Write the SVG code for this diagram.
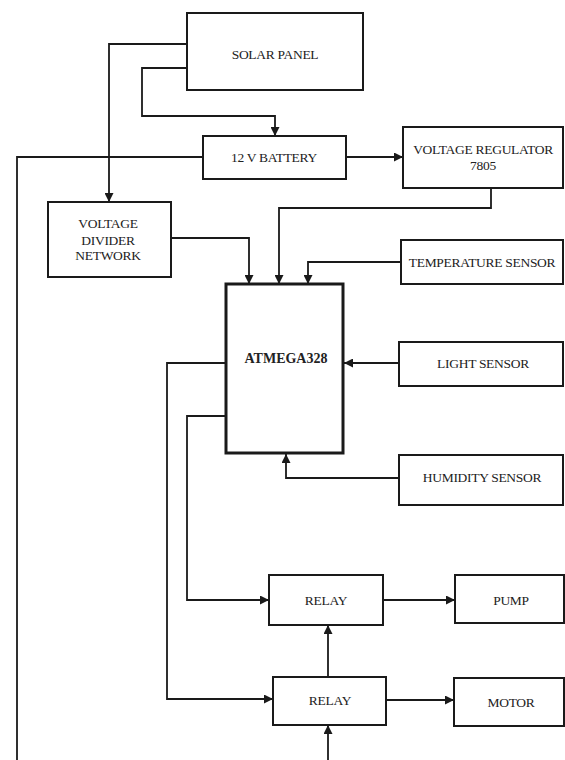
<svg xmlns="http://www.w3.org/2000/svg" width="565" height="760" viewBox="0 0 565 760">
<style>
.box{fill:#fff;stroke:#1a1a1a;stroke-width:2}
.mcu{fill:#fff;stroke:#1a1a1a;stroke-width:3}
.lbl{font-family:"Liberation Serif","Times New Roman",serif;font-size:13.5px;fill:#222;text-anchor:middle;letter-spacing:-0.3px}
.big{font-family:"Liberation Serif","Times New Roman",serif;font-size:14px;font-weight:bold;fill:#222;text-anchor:middle}
.wire{fill:none;stroke:#1a1a1a;stroke-width:1.8}
</style>
<defs>
<marker id="ah" markerUnits="userSpaceOnUse" markerWidth="9" markerHeight="9" refX="9" refY="4.5" orient="auto">
<path d="M0,0 L9,4.5 L0,9 z" fill="#1a1a1a"/>
</marker>
</defs>
<rect width="565" height="760" fill="#fff"/>
<g id="connectors">
<path class="wire" d="M187,44 H109 V202" marker-end="url(#ah)"/>
<path class="wire" d="M187,68 H142 V116 H275 V136" marker-end="url(#ah)"/>
<path class="wire" d="M203,157 H17 V760"/>
<path class="wire" d="M346,157 H403" marker-end="url(#ah)"/>
<path class="wire" d="M491,188 V208 H279 V284" marker-end="url(#ah)"/>
<path class="wire" d="M171,238 H249 V284" marker-end="url(#ah)"/>
<path class="wire" d="M401,262 H308 V284" marker-end="url(#ah)"/>
<path class="wire" d="M399,363 H344" marker-end="url(#ah)"/>
<path class="wire" d="M399,478 H286 V454" marker-end="url(#ah)"/>
<path class="wire" d="M226,363 H167 V699 H273" marker-end="url(#ah)"/>
<path class="wire" d="M226,416 H187 V600 H269" marker-end="url(#ah)"/>
<path class="wire" d="M383,600 H455" marker-end="url(#ah)"/>
<path class="wire" d="M386,700 H454" marker-end="url(#ah)"/>
<path class="wire" d="M328,677 V625" marker-end="url(#ah)"/>
<path class="wire" d="M328,760 V725" marker-end="url(#ah)"/>
</g>
<g id="solar-panel"><rect class="box" x="187" y="13" width="176" height="77"/><text class="lbl" x="275" y="59">SOLAR PANEL</text></g>
<g id="battery"><rect class="box" x="203" y="136" width="143" height="43"/><text class="lbl" x="274" y="162">12 V BATTERY</text></g>
<g id="voltage-regulator"><rect class="box" x="403" y="127" width="160" height="61"/><text class="lbl" x="483" y="154">VOLTAGE REGULATOR</text><text class="lbl" x="483" y="170">7805</text></g>
<g id="voltage-divider"><rect class="box" x="48" y="202" width="123" height="75"/><text class="lbl" x="108" y="228">VOLTAGE</text><text class="lbl" x="108" y="245">DIVIDER</text><text class="lbl" x="108" y="260">NETWORK</text></g>
<g id="temperature-sensor"><rect class="box" x="401" y="240" width="162" height="44"/><text class="lbl" x="482" y="267">TEMPERATURE SENSOR</text></g>
<g id="atmega328"><rect class="mcu" x="226" y="284" width="117" height="169"/><text class="big" x="286" y="363">ATMEGA328</text></g>
<g id="light-sensor"><rect class="box" x="399" y="342" width="164" height="44"/><text class="lbl" x="483" y="368">LIGHT SENSOR</text></g>
<g id="humidity-sensor"><rect class="box" x="399" y="455" width="164" height="50"/><text class="lbl" x="482" y="482">HUMIDITY SENSOR</text></g>
<g id="relay-1"><rect class="box" x="269" y="575" width="114" height="50"/><text class="lbl" x="326" y="605">RELAY</text></g>
<g id="relay-2"><rect class="box" x="273" y="677" width="113" height="48"/><text class="lbl" x="330" y="705">RELAY</text></g>
<g id="pump"><rect class="box" x="455" y="575" width="109" height="48"/><text class="lbl" x="511" y="605">PUMP</text></g>
<g id="motor"><rect class="box" x="454" y="678" width="110" height="48"/><text class="lbl" x="511" y="707">MOTOR</text></g>
</svg>
